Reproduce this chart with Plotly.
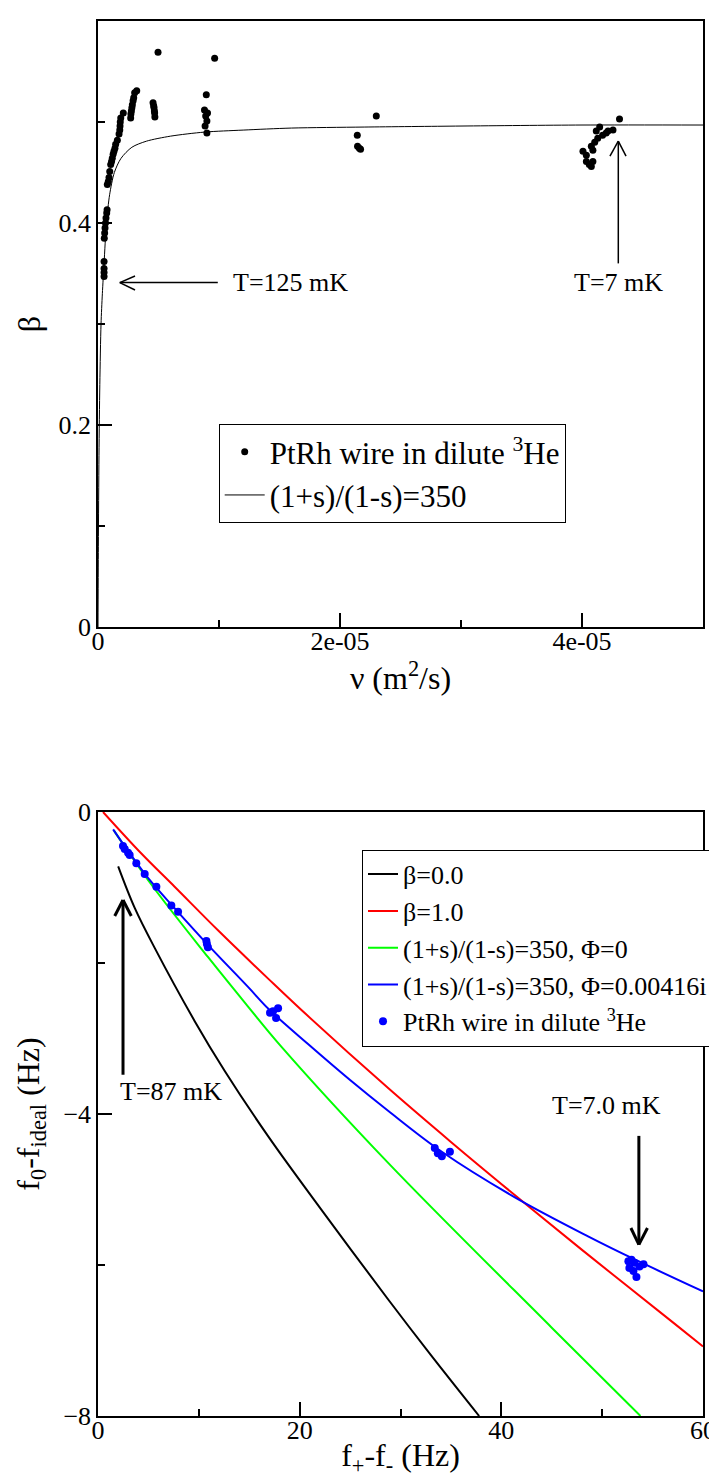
import plotly.graph_objects as go

FONT = '"Liberation Serif", "Times New Roman", Times, serif'

# ---------------- Top panel data ----------------
nu_pts = [0.050e-5, 0.050e-5, 0.050e-5, 0.050e-5, 0.052e-5, 0.055e-5, 0.058e-5, 0.062e-5,
          0.066e-5, 0.072e-5, 0.075e-5, 0.077e-5, 0.085e-5, 0.091e-5, 0.097e-5, 0.105e-5,
          0.112e-5, 0.118e-5, 0.125e-5, 0.132e-5, 0.140e-5, 0.146e-5, 0.160e-5, 0.174e-5,
          0.180e-5, 0.182e-5, 0.184e-5, 0.188e-5, 0.209e-5,
          0.270e-5, 0.272e-5, 0.276e-5, 0.280e-5, 0.284e-5, 0.290e-5, 0.295e-5, 0.303e-5, 0.320e-5,
          0.455e-5, 0.460e-5, 0.463e-5, 0.466e-5, 0.468e-5, 0.470e-5, 0.496e-5,
          0.880e-5, 0.895e-5, 0.890e-5, 0.900e-5, 0.885e-5, 0.900e-5, 0.905e-5, 0.964e-5,
          2.143e-5, 2.145e-5, 2.170e-5, 2.160e-5, 2.300e-5,
          4.310e-5, 4.256e-5, 4.215e-5, 4.146e-5, 4.118e-5, 4.170e-5, 4.105e-5, 4.077e-5,
          4.008e-5, 4.036e-5, 4.036e-5, 4.077e-5, 4.090e-5, 4.060e-5, 4.130e-5, 4.200e-5, 4.090e-5]
beta_pts = [0.347, 0.351, 0.355, 0.362, 0.385, 0.390, 0.395, 0.400,
            0.405, 0.410, 0.413, 0.438, 0.441, 0.445, 0.451, 0.458,
            0.461, 0.464, 0.468, 0.471, 0.474, 0.478, 0.482, 0.488,
            0.492, 0.496, 0.500, 0.504, 0.509,
            0.504, 0.508, 0.511, 0.514, 0.517, 0.521, 0.524, 0.529, 0.531,
            0.519, 0.516, 0.514, 0.511, 0.509, 0.505, 0.569,
            0.512, 0.527, 0.506, 0.501, 0.496, 0.489, 0.509, 0.563,
            0.487, 0.476, 0.473, 0.474, 0.506,
            0.503, 0.492, 0.491, 0.495, 0.491, 0.487, 0.480, 0.476,
            0.471, 0.467, 0.461, 0.456, 0.461, 0.458, 0.484, 0.489, 0.472]

nu_fit = [0.0, 0.003e-5, 0.008e-5, 0.015e-5, 0.025e-5, 0.036e-5, 0.050e-5, 0.070e-5,
          0.096e-5, 0.135e-5, 0.190e-5, 0.280e-5, 0.400e-5, 0.600e-5, 0.880e-5, 1.2e-5,
          1.6e-5, 2.2e-5, 3.0e-5, 4.0e-5, 5.0e-5]
beta_fit = [0.0, 0.08, 0.17, 0.24, 0.30, 0.33, 0.36, 0.40,
            0.428, 0.450, 0.464, 0.475, 0.481, 0.486, 0.490, 0.492,
            0.494, 0.495, 0.496, 0.497, 0.497]

top_xticks = [0, 2e-5, 4e-5]
top_xticktext = ["0", "2e-05", "4e-05"]
top_yticks = [0, 0.2, 0.4]
top_yticktext = ["0", "0.2", "0.4"]

# ---------------- Bottom panel data ----------------
df_b0 = [2.0, 3.64, 5.62, 9.59, 12.57, 16.9, 22.0, 28.8, 33.0, 37.8]
f0_b0 = [-0.72, -1.27, -1.80, -2.77, -3.43, -4.30, -5.24, -6.46, -7.19, -8.0]

df_b1 = [0.5, 4.3, 7.6, 12.0, 16.9, 20.8, 28.8, 35.0, 41.3, 48.0, 57.2, 60.0]
f0_b1 = [0.0, -0.55, -0.99, -1.58, -2.21, -2.70, -3.66, -4.37, -5.07, -5.80, -6.78, -7.08]

df_g = [1.6, 5.29, 10.9, 14.9, 18.2, 28.8, 45.0, 53.8]
f0_g = [-0.25, -0.96, -1.92, -2.58, -3.11, -4.65, -6.83, -8.0]

df_bl = [1.5, 3.0, 5.0, 7.5, 10.9, 14.9, 17.0, 20.8, 25.0, 28.8, 34.1, 41.3, 48.6, 53.6, 60.0]
f0_bl = [-0.23, -0.52, -0.88, -1.26, -1.76, -2.32, -2.62, -3.07, -3.55, -3.96, -4.50, -5.10,
         -5.62, -5.95, -6.35]

df_pts = [2.48, 2.65, 2.98, 3.14, 3.80, 4.63, 5.79, 7.27, 7.94, 10.75, 10.80, 10.90,
          17.06, 17.36, 17.66, 17.86,
          33.4, 33.7, 34.1, 34.9,
          52.6, 52.9, 53.2, 54.1, 53.1, 53.4, 52.7, 53.7]
f0_pts = [-0.45, -0.49, -0.54, -0.57, -0.68, -0.82, -0.99, -1.24, -1.32, -1.71, -1.75, -1.79,
          -2.66, -2.64, -2.73, -2.60,
          -4.45, -4.52, -4.56, -4.50,
          -5.95, -5.93, -5.97, -5.99, -6.08, -6.16, -6.04, -6.02]

bot_xticks = [0, 20, 40, 60]
bot_yticks = [-8, -4, 0]

fig = go.Figure()

# top traces
fig.add_trace(go.Scatter(x=nu_pts, y=beta_pts, mode="markers",
                         marker=dict(color="black", size=7),
                         name="PtRh wire in dilute <sup>3</sup>He",
                         xaxis="x", yaxis="y", legend="legend"))
fig.add_trace(go.Scatter(x=nu_fit, y=beta_fit, mode="lines",
                         line=dict(color="black", width=1, shape="spline", smoothing=0.8),
                         name="(1+s)/(1-s)=350",
                         xaxis="x", yaxis="y", legend="legend"))

# bottom traces
fig.add_trace(go.Scatter(x=df_b0, y=f0_b0, mode="lines",
                         line=dict(color="black", width=2, shape="spline"),
                         name="β=0.0", xaxis="x2", yaxis="y2", legend="legend2"))
fig.add_trace(go.Scatter(x=df_b1, y=f0_b1, mode="lines",
                         line=dict(color="#ff0000", width=2, shape="spline"),
                         name="β=1.0", xaxis="x2", yaxis="y2", legend="legend2"))
fig.add_trace(go.Scatter(x=df_g, y=f0_g, mode="lines",
                         line=dict(color="#00ff00", width=2, shape="spline"),
                         name="(1+s)/(1-s)=350, Φ=0", xaxis="x2", yaxis="y2", legend="legend2"))
fig.add_trace(go.Scatter(x=df_bl, y=f0_bl, mode="lines",
                         line=dict(color="#0000ff", width=2, shape="spline"),
                         name="(1+s)/(1-s)=350, Φ=0.00416i", xaxis="x2", yaxis="y2",
                         legend="legend2"))
fig.add_trace(go.Scatter(x=df_pts, y=f0_pts, mode="markers",
                         marker=dict(color="#0000ff", size=8),
                         name="PtRh wire in dilute <sup>3</sup>He", xaxis="x2", yaxis="y2",
                         legend="legend2"))

W, H = 717, 1477
XD = [90 / W, 695 / W]
Y1 = [1 - 619 / H, 1 - 13 / H]
Y2 = [1 - 1408 / H, 1 - 804 / H]

axis_common = dict(showline=True, linecolor="black", linewidth=1.5, mirror=True,
                   showgrid=False, zeroline=False, ticks="inside", ticklen=14,
                   tickwidth=1.5, tickcolor="black",
                   tickfont=dict(family=FONT, size=26, color="black"))

fig.update_layout(
    width=W, height=H,
    margin=dict(l=0, r=0, t=0, b=0, autoexpand=False),
    paper_bgcolor="white", plot_bgcolor="white",
    font=dict(family=FONT, color="black"),
    xaxis=dict(domain=XD, anchor="y", range=[0, 5e-5], tickmode="array",
               tickvals=top_xticks, ticktext=top_xticktext, ticklabelstandoff=-10,
               minor=dict(tickmode="array", tickvals=[1e-5, 3e-5], ticks="inside",
                          ticklen=7, tickwidth=1.5, tickcolor="black"),
               title=dict(text="ν (m<sup>2</sup>/s)", font=dict(family=FONT, size=32),
                          standoff=2),
               **axis_common),
    yaxis=dict(domain=Y1, anchor="x", range=[0, 0.6], tickmode="array",
               tickvals=top_yticks, ticktext=top_yticktext,
               minor=dict(tickmode="array", tickvals=[0.1, 0.3, 0.5], ticks="inside",
                          ticklen=7, tickwidth=1.5, tickcolor="black"),
               title=dict(text="β", font=dict(family=FONT, size=32), standoff=8),
               **axis_common),
    xaxis2=dict(domain=XD, anchor="y2", range=[0, 60], tickmode="array",
                tickvals=bot_xticks, ticklabelstandoff=-10,
                minor=dict(tickmode="array", tickvals=[10, 30, 50], ticks="inside",
                           ticklen=7, tickwidth=1.5, tickcolor="black"),
                title=dict(text="f<sub>+</sub>-f<sub>-</sub> (Hz)",
                           font=dict(family=FONT, size=32), standoff=0),
                **axis_common),
    yaxis2=dict(domain=Y2, anchor="x2", range=[-8, 0], tickmode="array",
                tickvals=bot_yticks,
                minor=dict(tickmode="array", tickvals=[-6, -2], ticks="inside",
                           ticklen=7, tickwidth=1.5, tickcolor="black"),
                title=dict(text="f<sub>0</sub>-f<sub>ideal</sub> (Hz)",
                           font=dict(family=FONT, size=32), standoff=14),
                **axis_common),
    legend=dict(x=210.7 / W, y=1 - 416 / H, xanchor="left", yanchor="top",
                bgcolor="white", bordercolor="black", borderwidth=1, itemwidth=40,
                font=dict(family=FONT, size=31, color="black"), tracegroupgap=0),
    legend2=dict(x=354 / W, y=1 - 841.7 / H, xanchor="left", yanchor="top",
                 bgcolor="white", bordercolor="black", borderwidth=1, itemwidth=30,
                 font=dict(family=FONT, size=26, color="black"), tracegroupgap=0),
    showlegend=True,
)

# ---------- annotations (text) ----------
ann_font = dict(family=FONT, size=26, color="black")
fig.add_annotation(x=1.10e-5, y=0.341, xref="x", yref="y", text="T=125 mK",
                   showarrow=False, xanchor="left", yanchor="middle", font=ann_font)
fig.add_annotation(x=4.30e-5, y=0.341, xref="x", yref="y", text="T=7 mK",
                   showarrow=False, xanchor="center", yanchor="middle", font=ann_font)
fig.add_annotation(x=1.98, y=-3.70, xref="x2", yref="y2", text="T=87 mK",
                   showarrow=False, xanchor="left", yanchor="middle", font=ann_font)
fig.add_annotation(x=50.43, y=-3.89, xref="x2", yref="y2", text="T=7.0 mK",
                   showarrow=False, xanchor="center", yanchor="middle", font=ann_font)

# ---------- arrows (open V heads, drawn as line shapes) ----------
def seg(x0, y0, x1, y1, xr, yr, w):
    fig.add_shape(type="line", x0=x0, y0=y0, x1=x1, y1=y1, xref=xr, yref=yr,
                  line=dict(color="black", width=w), layer="above")

# top: T=125 mK (horizontal, pointing left)
seg(0.99e-5, 0.341, 0.18e-5, 0.341, "x", "y", 1.5)
seg(0.18e-5, 0.341, 0.306e-5, 0.3475, "x", "y", 1.5)
seg(0.18e-5, 0.341, 0.306e-5, 0.3337, "x", "y", 1.5)
# top: T=7 mK (vertical, pointing up)
seg(4.30e-5, 0.360, 4.30e-5, 0.481, "x", "y", 1.5)
seg(4.30e-5, 0.481, 4.231e-5, 0.4663, "x", "y", 1.5)
seg(4.30e-5, 0.481, 4.364e-5, 0.4663, "x", "y", 1.5)
# bottom: T=87 mK (pointing up)
seg(2.48, -3.48, 2.48, -1.166, "x2", "y2", 3)
seg(2.48, -1.166, 1.66, -1.377, "x2", "y2", 3)
seg(2.48, -1.166, 3.30, -1.377, "x2", "y2", 3)
# bottom: T=7.0 mK (pointing down)
seg(53.64, -4.29, 53.64, -5.73, "x2", "y2", 3)
seg(53.64, -5.73, 52.85, -5.51, "x2", "y2", 3)
seg(53.64, -5.73, 54.49, -5.51, "x2", "y2", 3)

fig.write_html("out.html")
